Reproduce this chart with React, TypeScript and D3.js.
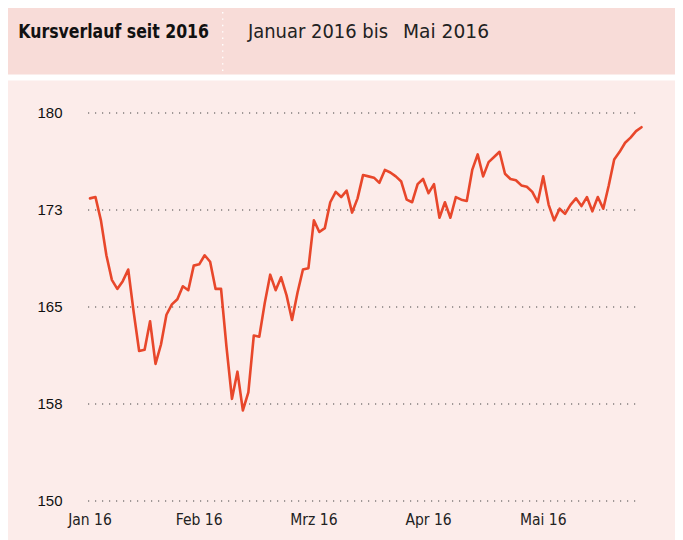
import React from "react";
import * as d3 from "d3";

const prices: number[] = [
  173.4, 173.5, 171.7, 169.0, 167.1, 166.4, 167.0, 167.9, 164.6, 161.6,
  161.7, 163.9, 160.6, 162.1, 164.4, 165.2, 165.6, 166.6, 166.3, 168.2,
  168.3, 169.0, 168.5, 166.4, 166.4, 161.9, 157.9, 160.0, 157.0, 158.4,
  162.8, 162.7, 165.3, 167.5, 166.3, 167.3, 165.9, 164.0, 166.1, 167.9,
  168.0, 171.7, 170.8, 171.1, 173.1, 173.9, 173.5, 174.0, 172.3, 173.4,
  175.2, 175.1, 175.0, 174.6, 175.6, 175.4, 175.1, 174.7, 173.3, 173.1,
  174.5, 174.9, 173.8, 174.5, 171.9, 173.1, 171.9, 173.5, 173.3, 173.2,
  175.6, 176.8, 175.1, 176.2, 176.6, 177.0, 175.3, 174.9, 174.8, 174.4,
  174.3, 173.9, 173.1, 175.1, 172.9, 171.7, 172.6, 172.2, 172.9, 173.4,
  172.8, 173.5, 172.4, 173.5, 172.6, 174.4, 176.4, 177.0, 177.7, 178.1,
  178.6, 178.9,
];

const monthLabels: string[] = ["Jan 16", "Feb 16", "Mrz 16", "Apr 16", "Mai 16"];
const monthStartIndex: number[] = [0, 20, 41, 62, 83];
const yTicks: number[] = [150, 157.5, 165, 172.5, 180];

const W = 683;
const H = 540;
const HUM = "'Liberation Sans Narrow', 'DejaVu Sans Condensed', 'Open Sans', sans-serif";
const ARIAL = "'Liberation Sans', Arial, sans-serif";

export default function App() {
  const x = d3.scaleLinear().domain([0, prices.length - 1]).range([90, 641.5]);
  const y = d3.scaleLinear().domain([150, 180]).range([501, 113]);
  const line = d3
    .line<number>()
    .x((_, i) => x(i))
    .y((d) => y(d));

  const gridX1 = 88;
  const gridX2 = 638;

  return (
    <svg
      width={W}
      height={H}
      style={{ position: "absolute", left: 0, top: 0, display: "block" }}
    >
      <rect x={0} y={0} width={W} height={H} fill="#ffffff" />
      {/* header band */}
      <rect x={8} y={8} width={667} height={66.5} fill="#f8dcd8" />
      <line
        x1={222.7}
        x2={222.7}
        y1={12}
        y2={71}
        stroke="#ffffff"
        strokeWidth={1.4}
        strokeDasharray="1.4 5"
      />
      <text
        x={18.3}
        y={37.7}
        fontFamily={HUM}
        fontWeight="bold"
        fontSize={20}
        fill="#111"
        textLength={190.7}
        lengthAdjust="spacingAndGlyphs"
      >
        Kursverlauf seit 2016
      </text>
      <text
        x={248}
        y={37.7}
        fontFamily={HUM}
        fontSize={20}
        fill="#222"
        textLength={140}
        lengthAdjust="spacingAndGlyphs"
      >
        Januar 2016 bis
      </text>
      <text
        x={403}
        y={37.7}
        fontFamily={HUM}
        fontSize={20}
        fill="#222"
        textLength={86}
        lengthAdjust="spacingAndGlyphs"
      >
        Mai 2016
      </text>

      {/* chart panel */}
      <rect x={8} y={80.5} width={667} height={H - 80.5} fill="#fcecea" />

      {yTicks.map((t) => (
        <g key={t}>
          <line
            x1={gridX1}
            x2={gridX2}
            y1={y(t)}
            y2={y(t)}
            stroke="#444"
            strokeWidth={1.2}
            strokeDasharray="1.2 5.8"
          />
          <text
            x={62.5}
            y={y(t)}
            dy="0.36em"
            textAnchor="end"
            fontFamily={ARIAL}
            fontSize={15}
            fill="#111"
          >
            {Math.round(t)}
          </text>
        </g>
      ))}

      {monthLabels.map((m, i) => (
        <text
          key={m}
          x={x(monthStartIndex[i])}
          y={525}
          textAnchor="middle"
          fontFamily={HUM}
          fontSize={15.5}
          fill="#222"
        >
          {m}
        </text>
      ))}

      <path
        d={line(prices) || ""}
        fill="none"
        stroke="#e8472b"
        strokeWidth={2.6}
        strokeLinejoin="round"
        strokeLinecap="round"
      />
    </svg>
  );
}
